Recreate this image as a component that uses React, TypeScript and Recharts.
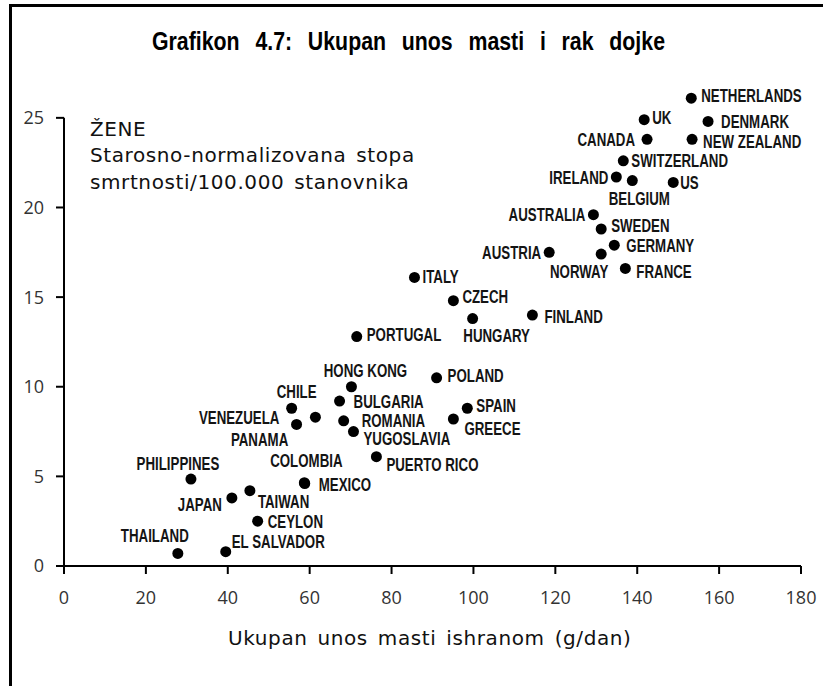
import React from 'react';
import { ScatterChart, Scatter, XAxis, YAxis, ReferenceLine } from 'recharts';

// Countries (categories)
const countries = [
  'NETHERLANDS', 'UK', 'DENMARK', 'CANADA', 'NEW ZEALAND', 'SWITZERLAND', 'IRELAND', 'BELGIUM', 'US',
  'AUSTRALIA', 'SWEDEN', 'GERMANY', 'AUSTRIA', 'NORWAY', 'FRANCE', 'ITALY', 'CZECH', 'HUNGARY', 'FINLAND',
  'PORTUGAL', 'POLAND', 'HONG KONG', 'SPAIN', 'GREECE', 'BULGARIA', 'ROMANIA', 'YUGOSLAVIA', 'CHILE',
  'VENEZUELA', 'PANAMA', 'PHILIPPINES', 'JAPAN', 'TAIWAN', 'COLOMBIA', 'MEXICO', 'PUERTO RICO', 'CEYLON',
  'THAILAND', 'EL SALVADOR',
];

// Total dietary fat intake (g/day)
const fatIntake = [
  153.2, 141.7, 157.3, 142.4, 153.4, 136.6, 134.9, 138.8, 148.8,
  129.3, 131.2, 134.4, 118.5, 131.2, 137.1, 85.6, 95.1, 99.8, 114.4,
  71.5, 91.0, 70.2, 98.5, 95.1, 67.3, 68.3, 70.7, 55.6,
  61.4, 56.8, 31.0, 41.0, 45.4, 58.7, 58.8, 76.3, 47.3,
  27.8, 39.5,
];

// Age-adjusted mortality / 100,000
const mortality = [
  26.1, 24.9, 24.8, 23.8, 23.8, 22.6, 21.7, 21.5, 21.4,
  19.6, 18.8, 17.9, 17.5, 17.4, 16.6, 16.1, 14.8, 13.8, 14.0,
  12.8, 10.5, 10.0, 8.8, 8.2, 9.2, 8.1, 7.5, 8.8,
  8.3, 7.9, 4.85, 3.8, 4.2, 4.65, 4.6, 6.1, 2.5,
  0.7, 0.8,
];

const xTicks = [0, 20, 40, 60, 80, 100, 120, 140, 160, 180];
const yTicks = [0, 5, 10, 15, 20, 25];

// label placement: [anchor, dx, dy] (style, kept apart from the data)
const labelPlacement: Record<string, [string, number, number]> = {
  NETHERLANDS: ['start', 10, -3],
  UK: ['start', 8, -2],
  DENMARK: ['start', 13, 0],
  CANADA: ['end', -12, 0],
  'NEW ZEALAND': ['start', 11, 2],
  SWITZERLAND: ['start', 8, 0],
  IRELAND: ['end', -8, 0],
  BELGIUM: ['middle', 7, 18],
  US: ['start', 7, 0],
  AUSTRALIA: ['end', -8, 0],
  SWEDEN: ['start', 10, -3],
  GERMANY: ['start', 12, 0],
  AUSTRIA: ['end', -8, 0],
  NORWAY: ['middle', -22, 17],
  FRANCE: ['start', 11, 3],
  ITALY: ['start', 8, -1],
  CZECH: ['start', 9, -4],
  HUNGARY: ['middle', 24, 17],
  FINLAND: ['start', 12, 1],
  PORTUGAL: ['start', 10, -2],
  POLAND: ['start', 11, -2],
  'HONG KONG': ['middle', 14, -16],
  SPAIN: ['start', 9, -3],
  GREECE: ['start', 11, 9],
  BULGARIA: ['start', 14, 0],
  ROMANIA: ['start', 18, 0],
  YUGOSLAVIA: ['start', 10, 7],
  CHILE: ['middle', 5, -17],
  VENEZUELA: ['end', -36, 0],
  PANAMA: ['middle', -37, 15],
  PHILIPPINES: ['middle', -13, -16],
  JAPAN: ['end', -10, 7],
  TAIWAN: ['start', 8, 11],
  COLOMBIA: ['middle', 2, -22],
  MEXICO: ['start', 14, 1],
  'PUERTO RICO': ['start', 10, 8],
  CEYLON: ['start', 10, 0],
  THAILAND: ['middle', -23, -18],
  'EL SALVADOR': ['start', 6, -10],
};

const data = countries.map((name, i) => ({ name, fat: fatIntake[i], rate: mortality[i] }));

const LABEL_FONT = "'Liberation Sans', Arial, sans-serif";
const TEXT_FONT = "'DejaVu Sans', Verdana, sans-serif";
const TICK_FONT = "'Open Sans', 'Noto Sans', sans-serif";

function CountryDot(props: any) {
  const { cx, cy, payload } = props;
  if (cx == null || cy == null) return null;
  const p = labelPlacement[payload.name] || ['start', 8, 0];
  return (
    <g>
      <circle cx={cx} cy={cy} r={5.5} fill="#000" />
      <text
        transform={`translate(${cx + p[1]},${cy + p[2] + 6.5}) scale(0.76,1)`}
        textAnchor={p[0] as any}
        fontFamily={LABEL_FONT}
        fontWeight="bold"
        fontSize={17.5}
        fill="#141414"
      >
        {payload.name}
      </text>
    </g>
  );
}

export default function App() {
  return (
    <div
      style={{
        position: 'absolute',
        left: 0,
        top: 0,
        width: 823,
        height: 686,
        overflow: 'hidden',
        background: '#fff',
      }}
    >
      <div
        style={{
          position: 'absolute',
          left: 9,
          top: 4,
          width: 900,
          height: 900,
          borderTop: '3px solid #000',
          borderLeft: '3px solid #000',
        }}
      />
      <div style={{ position: 'absolute', left: 0, top: 0 }}>
        <ScatterChart width={823} height={686} margin={{ top: 82, right: 22, bottom: 90, left: 10 }}>
          <XAxis
            type="number"
            dataKey="fat"
            domain={[0, 180]}
            ticks={xTicks}
            interval={0}
            height={30}
            tickSize={8}
            tickMargin={17}
            axisLine={{ stroke: '#000', strokeWidth: 2 }}
            tickLine={{ stroke: '#000', strokeWidth: 2 }}
            tick={{ fill: '#333', fontSize: 18, fontFamily: TICK_FONT }}
          />
          <YAxis
            type="number"
            dataKey="rate"
            domain={[0, 27]}
            ticks={yTicks}
            interval={0}
            width={54}
            tickSize={8}
            tickMargin={12}
            axisLine={false}
            tickLine={{ stroke: '#000', strokeWidth: 2 }}
            tick={{ fill: '#333', fontSize: 18, fontFamily: TICK_FONT }}
          />
          <ReferenceLine
            segment={[
              { x: 0, y: 0 },
              { x: 0, y: 25 },
            ]}
            stroke="#000"
            strokeWidth={2}
          />
          <Scatter data={data} shape={CountryDot} isAnimationActive={false} />
        </ScatterChart>
      </div>
      <svg
        width={823}
        height={686}
        style={{ position: 'absolute', left: 0, top: 0, pointerEvents: 'none' }}
      >
        <text
          transform="translate(152,50) scale(0.82,1)"
          fontFamily={LABEL_FONT}
          fontWeight="bold"
          fontSize={26}
          wordSpacing={12}
          fill="#000"
        >
          Grafikon 4.7: Ukupan unos masti i rak dojke
        </text>
        <g fontFamily={TEXT_FONT} fontSize={20} fill="#111" letterSpacing={0.6} wordSpacing={3}>
          <text x={90} y={136}>ŽENE</text>
          <text x={90} y={162}>Starosno-normalizovana stopa</text>
          <text x={90} y={189}>smrtnosti/100.000 stanovnika</text>
          <text x={228} y={645}>Ukupan unos masti ishranom (g/dan)</text>
        </g>
      </svg>
    </div>
  );
}
